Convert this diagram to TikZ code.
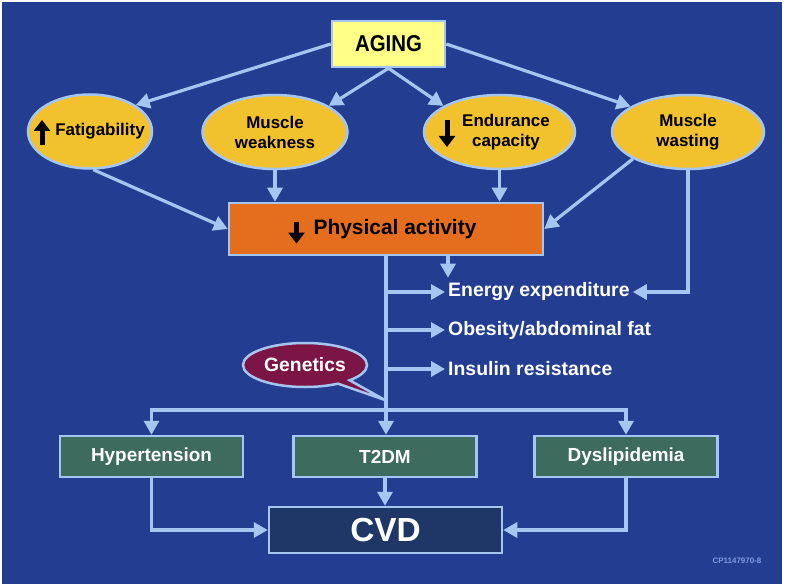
\documentclass[tikz,border=0pt]{standalone}
\usepackage{fontspec}
\setmainfont{Liberation Sans}
\usetikzlibrary{shapes.geometric,shapes.callouts,arrows.meta,calc}
\definecolor{bgblue}{HTML}{233D91}
\definecolor{lblue}{HTML}{A6C6F2}
\definecolor{agingy}{HTML}{FFFF88}
\definecolor{elly}{HTML}{F2C12E}
\definecolor{orng}{HTML}{E56E1E}
\definecolor{grn}{HTML}{3D6B5E}
\definecolor{navy}{HTML}{1F3766}
\definecolor{mrn}{HTML}{7B1545}
\definecolor{codeblue}{HTML}{7F9AE0}
\begin{document}
\begin{tikzpicture}[x=1bp,y=-1bp,
  arr/.style={draw=lblue, line width=3.2bp, -{Triangle[length=14bp,width=15bp]}},
  ln/.style={draw=lblue, line width=3.2bp},
  ell/.style={ellipse, draw=lblue, line width=2.5bp, fill=elly, inner sep=0pt, minimum height=74bp, align=center, font=\bfseries\fontsize{17}{20}\selectfont},
  elltxt/.style={inner sep=0pt, align=center, font=\bfseries\fontsize{17}{20}\selectfont},
  box/.style={draw=lblue, line width=2.5bp, inner sep=0pt},
  lowbox/.style={box, fill=grn, minimum width=183bp, minimum height=41bp, text=white, font=\bfseries\fontsize{19}{22}\selectfont},
  txt/.style={anchor=west, inner sep=0pt, text=white, font=\bfseries\fontsize{19.5}{22}\selectfont},
  icon/.style={draw=black, line width=5bp, -{Triangle[length=11bp,width=16bp]}},
]
% background
\fill[white] (0,0) rectangle (785,588);
\fill[bgblue] (2,2) rectangle (782,584);

% top
\node[box, fill=agingy, minimum width=113bp, minimum height=46bp, font=\bfseries\fontsize{23}{26}\selectfont] (aging) at (388.5,44) {\scalebox{0.89}[1]{AGING}};

\node[ell, minimum width=124bp] (fat) at (90,131.5) {};
\node[elltxt] (fatT) at (100,131.5) {Fatigability};
\draw[icon] ($(fat.center)+(-48,13.5)$) -- ($(fat.center)+(-48,-11.5)$);

\node[ell, minimum width=145bp] (mw) at (275,132) {Muscle\\weakness};

\node[ell, minimum width=151bp] (end) at (499.5,132) {};
\node[elltxt] (endT) at (506,132) {Endurance\\capacity};
\draw[icon] ($(end.center)+(-52.5,-12)$) -- ($(end.center)+(-52.5,15)$);

\node[ell, minimum width=152bp] (mwas) at (688,132) {Muscle\\wasting};

% physical activity
\node[box, fill=orng, minimum width=314bp, minimum height=52bp] (phys) at (386,229) {};
\node[inner sep=0pt, font=\bfseries\fontsize{21}{25}\selectfont] (physT) at (395,229) {Physical activity};
\draw[icon] ($(phys.center)+(-89.5,-7.5)$) -- ($(phys.center)+(-89.5,14.5)$);

% effect texts
\node[txt] (energy) at (448,292) {Energy expenditure};
\node[txt] (obes) at (448,330) {Obesity/abdominal fat};
\node[txt] (ins) at (448,369) {Insulin resistance};

% genetics
\coordinate (gtip) at (385,400);
\coordinate (branch) at (386,410);
\node[ellipse callout, draw=lblue, line width=2.5bp, fill=mrn, minimum width=124bp, minimum height=44bp, inner sep=0pt, callout absolute pointer={(gtip)}, callout pointer arc=14, text=white, font=\bfseries\fontsize{19.4}{22}\selectfont] (gen) at (305,365) {Genetics};

% lower boxes
\node[lowbox] (hyp) at (151.5,456.5) {Hypertension};
\node[lowbox] (t2dm) at (385,456.5) {T2DM};
\node[lowbox] (dys) at (626,456.5) {Dyslipidemia};
\node[box, fill=navy, minimum width=233bp, minimum height=46bp, text=white, font=\bfseries\fontsize{33.5}{38}\selectfont] (cvd) at (385.5,530) {CVD};

\node[inner sep=0pt, text=codeblue, font=\bfseries\fontsize{8}{9}\selectfont] (code) at (737,561) {CP1147970-8};

% connectors from AGING
\draw[arr] (aging.west) -- (fat.30);
\draw[arr] (aging.south) -- (mw.26);
\draw[arr] (aging.south) -- (end.155);
\draw[arr] (aging.east) -- (mwas.156);

% to physical activity
\draw[arr] (fat.-85) -- (phys.west);
\draw[arr] (mw.south) -- (mw.south |- phys.north);
\draw[arr] (end.south) -- (end.south |- phys.north);
\draw[arr] (mwas.206) -- (phys.east);
\draw[arr, shorten >=3bp] (mwas.south) |- (energy.east);

% trunk
\draw[ln] (phys.south) -- (branch);
\draw[arr, shorten >=5bp] (phys.south -| energy.west) -- (energy.north west);
\draw[arr, shorten >=3bp] (phys.south |- energy.west) -- (energy.west);
\draw[arr, shorten >=3bp] (phys.south |- obes.west) -- (obes.west);
\draw[arr, shorten >=3bp] (phys.south |- ins.west) -- (ins.west);

% branches
\draw[arr] (branch) -| (hyp.north);
\draw[arr] (branch) -| (dys.north);
\draw[arr] (branch) -- (branch |- t2dm.north);

% to CVD
\draw[arr] (hyp.south) |- (cvd.west);
\draw[arr] (dys.south) |- (cvd.east);
\draw[arr] (t2dm.south) -- (t2dm.south |- cvd.north);
\end{tikzpicture}
\end{document}
